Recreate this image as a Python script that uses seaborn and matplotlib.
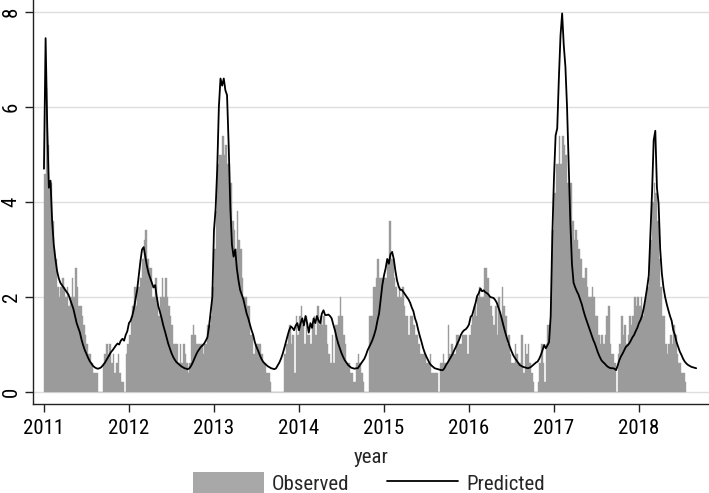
import numpy as np
import pandas as pd
import matplotlib
matplotlib.use("Agg")
import matplotlib.pyplot as plt
from matplotlib.patches import Patch
from matplotlib.lines import Line2D
import seaborn as sns

# ---------------- data (weekly) ----------------
obs_2011 = [4.6, 6.4, 5.2, 4.4, 4.4, 3.6, 3.0, 2.8, 2.2, 2.0, 2.2, 2.4, 2.2, 2.0, 2.2, 1.8, 2.0, 2.4, 2.0, 2.6,
            2.2, 1.8, 1.8, 1.6, 1.4, 1.2, 1.0, 0.8, 0.8, 0.6, 0.4, 0.4, 0.4, 0.0, 0.0, 0.0, 0.6, 0.8, 1.0, 0.8,
            1.0, 0.6, 0.8, 0.4, 0.6, 0.8, 0.4, 0.2, 0.2, 0.0, 0.8, 1.0]
obs_2012 = [1.2, 1.6, 1.8, 2.2, 1.8, 2.2, 2.2, 2.4, 2.8, 3.2, 3.4, 2.8, 2.6, 2.6, 2.0, 2.0, 2.4, 2.0, 1.6, 2.0,
            2.4, 2.0, 2.4, 2.0, 1.8, 1.6, 1.4, 1.0, 1.0, 1.0, 0.6, 1.0, 0.6, 1.0, 0.8, 0.6, 0.4, 0.6, 1.2, 1.4,
            1.2, 1.0, 1.0, 1.0, 1.0, 0.8, 1.0, 1.0, 1.4, 1.4, 1.6, 2.2]
obs_2013 = [3.0, 3.8, 4.8, 5.0, 5.0, 5.4, 5.0, 5.2, 4.8, 4.8, 4.4, 3.6, 3.4, 3.0, 3.8, 3.2, 3.0, 2.4, 2.0, 2.0,
            1.8, 1.8, 1.2, 1.2, 0.8, 1.0, 1.0, 1.0, 1.0, 0.8, 0.6, 0.6, 0.4, 0.4, 0.2, 0.0, 0.0, 0.0, 0.0, 0.0,
            0.0, 0.0, 0.0, 0.8, 1.0, 1.2, 1.4, 1.0, 1.2, 0.4, 1.6, 1.2]
obs_2014 = [1.6, 1.8, 1.4, 1.0, 1.6, 1.2, 1.2, 1.0, 1.4, 1.6, 1.2, 1.8, 1.4, 1.6, 1.4, 1.6, 1.4, 1.0, 0.8, 0.6,
            1.2, 0.6, 1.4, 1.4, 1.6, 2.0, 1.6, 1.2, 1.0, 0.6, 0.6, 0.4, 0.4, 0.2, 0.2, 0.6, 0.8, 0.6, 0.4, 0.2,
            0.0, 0.0, 0.0, 1.6, 1.6, 2.2, 2.2, 2.4, 2.8, 2.4, 2.4, 2.4]
obs_2015 = [2.4, 2.4, 2.8, 3.6, 2.8, 2.8, 2.4, 2.2, 2.0, 2.2, 2.0, 2.2, 1.8, 1.6, 1.6, 1.2, 1.6, 1.6, 1.4, 1.2,
            1.2, 1.0, 0.8, 0.8, 0.8, 0.8, 0.6, 0.6, 0.8, 0.4, 0.4, 0.4, 0.4, 0.0, 0.6, 0.6, 0.8, 0.6, 0.6, 1.4,
            0.8, 1.0, 0.8, 0.8, 1.2, 1.2, 1.0, 1.0, 1.2, 1.2, 1.2, 0.8]
obs_2016 = [1.2, 1.4, 1.6, 1.8, 1.6, 2.0, 2.2, 2.0, 2.0, 2.6, 2.6, 2.4, 2.0, 1.8, 1.6, 1.4, 1.8, 1.2, 2.0, 1.6,
            2.2, 1.8, 1.6, 1.0, 1.2, 0.8, 0.6, 0.6, 1.0, 0.8, 0.6, 0.6, 1.2, 0.4, 1.0, 0.8, 1.0, 0.6, 0.4, 0.2,
            0.0, 0.0, 0.2, 0.6, 1.0, 0.6, 0.2, 1.0, 1.4, 1.4, 2.0, 3.4]
obs_2017 = [4.2, 4.8, 4.8, 5.4, 4.8, 5.4, 5.2, 5.0, 4.4, 4.4, 4.4, 3.6, 3.2, 3.4, 3.2, 3.0, 2.8, 2.4, 2.4, 2.6,
            2.2, 2.0, 2.0, 2.2, 2.0, 1.6, 1.6, 1.2, 1.0, 1.2, 1.0, 1.2, 1.6, 1.8, 1.0, 0.8, 0.8, 0.6, 0.0, 0.8,
            1.0, 1.6, 1.2, 1.4, 1.0, 1.2, 1.6, 1.4, 1.6, 2.0, 1.8, 2.0]
obs_2018 = [1.8, 2.0, 1.6, 1.8, 2.0, 2.2, 2.4, 3.2, 4.0, 4.4, 4.2, 3.6, 2.8, 2.2, 1.6, 1.6, 1.0, 0.8, 1.0, 1.2,
            1.0, 1.4, 1.2, 0.8, 0.6, 0.6, 0.4, 0.4, 0.2]

pred_2011 = [4.7, 7.45, 5.6, 4.3, 4.45, 3.6, 3.1, 2.8, 2.55, 2.4, 2.3, 2.25, 2.2, 2.15, 2.1, 2.05, 1.95, 1.85,
             1.75, 1.6, 1.45, 1.35, 1.25, 1.1, 0.98, 0.88, 0.8, 0.72, 0.65, 0.6, 0.55, 0.52, 0.5, 0.49, 0.5,
             0.52, 0.56, 0.6, 0.66, 0.72, 0.78, 0.84, 0.88, 0.93, 0.98, 1.02, 1.0, 1.08, 1.12, 1.08, 1.2, 1.28]
pred_2012 = [1.45, 1.5, 1.6, 1.75, 1.95, 2.15, 2.45, 2.75, 3.0, 3.05, 2.85, 2.65, 2.5, 2.4, 2.3, 2.2, 2.25, 2.0,
             1.8, 1.68, 1.55, 1.4, 1.28, 1.15, 1.02, 0.92, 0.82, 0.74, 0.68, 0.63, 0.6, 0.57, 0.54, 0.52, 0.5,
             0.49, 0.48, 0.5, 0.55, 0.62, 0.7, 0.78, 0.85, 0.9, 0.95, 0.98, 1.02, 1.08, 1.15, 1.38, 1.7, 2.0]
pred_2013 = [3.4, 3.85, 4.7, 6.0, 6.6, 6.45, 6.6, 6.35, 6.25, 5.2, 3.9, 3.1, 2.85, 3.0, 2.6, 2.35, 2.15, 2.05,
             1.95, 1.8, 1.65, 1.55, 1.42, 1.3, 1.2, 1.05, 0.95, 0.87, 0.78, 0.7, 0.64, 0.6, 0.57, 0.54, 0.52,
             0.5, 0.49, 0.48, 0.5, 0.56, 0.62, 0.7, 0.8, 0.92, 1.05, 1.18, 1.3, 1.38, 1.35, 1.3, 1.4, 1.45]
pred_2014 = [1.3, 1.45, 1.55, 1.4, 1.6, 1.45, 1.25, 1.45, 1.35, 1.55, 1.45, 1.6, 1.5, 1.45, 1.65, 1.72, 1.62,
             1.62, 1.63, 1.6, 1.55, 1.42, 1.3, 1.15, 1.02, 0.92, 0.82, 0.74, 0.67, 0.62, 0.57, 0.54, 0.51, 0.5,
             0.49, 0.5, 0.5, 0.55, 0.6, 0.65, 0.7, 0.78, 0.88, 0.95, 1.02, 1.1, 1.2, 1.32, 1.5, 1.65, 1.95, 2.25]
pred_2015 = [2.45, 2.6, 2.8, 2.7, 2.9, 2.95, 2.8, 2.55, 2.35, 2.22, 2.15, 2.15, 2.1, 2.05, 2.0, 1.95, 1.88, 1.78,
             1.7, 1.55, 1.45, 1.3, 1.17, 1.05, 0.92, 0.82, 0.74, 0.67, 0.6, 0.56, 0.53, 0.5, 0.49, 0.48, 0.47,
             0.46, 0.46, 0.5, 0.57, 0.62, 0.68, 0.74, 0.8, 0.88, 0.95, 1.03, 1.1, 1.2, 1.26, 1.3, 1.32, 1.36]
pred_2016 = [1.42, 1.58, 1.62, 1.75, 1.87, 2.02, 2.08, 2.18, 2.12, 2.14, 2.1, 2.08, 2.05, 2.0, 1.99, 1.98, 1.94,
             1.88, 1.78, 1.68, 1.55, 1.41, 1.28, 1.16, 1.05, 0.95, 0.86, 0.78, 0.72, 0.67, 0.62, 0.57, 0.55,
             0.53, 0.52, 0.51, 0.5, 0.51, 0.53, 0.56, 0.59, 0.62, 0.64, 0.7, 0.78, 0.88, 0.99, 0.92, 0.98,
             1.05, 1.6, 3.3]
pred_2017 = [4.5, 5.4, 5.55, 6.6, 7.5, 7.97, 7.3, 6.85, 6.0, 4.8, 3.6, 2.7, 2.3, 2.2, 2.12, 2.05, 1.95, 1.85,
             1.72, 1.6, 1.5, 1.4, 1.3, 1.2, 1.1, 1.02, 0.92, 0.82, 0.74, 0.67, 0.63, 0.6, 0.56, 0.53, 0.51, 0.5,
             0.5, 0.49, 0.46, 0.56, 0.67, 0.75, 0.81, 0.88, 0.95, 0.98, 1.02, 1.08, 1.15, 1.2, 1.28, 1.35]
pred_2018 = [1.45, 1.52, 1.62, 1.78, 1.98, 2.2, 2.45, 3.3, 4.2, 5.3, 5.5, 4.3, 3.97, 3.0, 2.5, 2.2, 2.0, 1.85,
             1.72, 1.6, 1.5, 1.3, 1.2, 1.05, 0.95, 0.85, 0.78, 0.7, 0.64, 0.6, 0.57, 0.55, 0.53, 0.52, 0.51, 0.5]

start_year = 2011
weeks_per_year = 52
y_ticks = [0, 2, 4, 6, 8]
x_ticks = [2011, 2012, 2013, 2014, 2015, 2016, 2017, 2018]
series_labels = ["Observed", "Predicted"]
x_title = "year"

observed = obs_2011 + obs_2012 + obs_2013 + obs_2014 + obs_2015 + obs_2016 + obs_2017 + obs_2018
predicted = pred_2011 + pred_2012 + pred_2013 + pred_2014 + pred_2015 + pred_2016 + pred_2017 + pred_2018

# ---------------- styling ----------------
bar_color = "#9b9b9b"
grid_color = "#dedede"
font_size = 15

sns.set_style("white")
plt.rcParams["font.family"] = ["Nimbus Sans Narrow", "Liberation Sans Narrow", "Arial Narrow",
                               "Roboto Condensed", "Liberation Sans", "DejaVu Sans"]

fig = plt.figure(figsize=(7.09, 4.93), dpi=100)
W, H = 709, 493
ax = fig.add_axes([33 / W, 89 / H, 676 / W, 404 / H])

n_obs = len(observed)
df_obs = pd.DataFrame({
    "year": start_year + (np.arange(n_obs) + 0.5) / weeks_per_year,
    "value": observed,
})
sns.histplot(data=df_obs, x="year", weights="value",
             binwidth=1 / weeks_per_year,
             binrange=(start_year, start_year + n_obs / weeks_per_year),
             color=bar_color, alpha=1, edgecolor=bar_color, linewidth=0.3, ax=ax, zorder=2)

df_pred = pd.DataFrame({
    "year": start_year + np.arange(len(predicted)) / weeks_per_year,
    "value": predicted,
})
sns.lineplot(data=df_pred, x="year", y="value", color="black", linewidth=1.3, ax=ax, zorder=3)

ax.set_xlim(2010.871, 2018.824)
ax.set_ylim(-0.253, 8.253)
ax.set_yticks(y_ticks)
ax.set_yticklabels([str(v) for v in y_ticks], rotation=90, va="center", fontsize=font_size)
ax.set_xticks(x_ticks)
ax.set_xticklabels([str(v) for v in x_ticks], fontsize=font_size)
ax.yaxis.grid(True, color=grid_color, linewidth=1.0)
ax.xaxis.grid(False)
ax.set_axisbelow(True)

for side in ["top", "right"]:
    ax.spines[side].set_visible(False)
for side in ["left", "bottom"]:
    ax.spines[side].set_color("#222222")
    ax.spines[side].set_linewidth(1.0)
ax.tick_params(axis="both", direction="out", length=6, width=1.0, color="#222222",
               bottom=True, left=True, labelcolor="black")
ax.tick_params(axis="x", pad=5)
ax.tick_params(axis="y", pad=3)

ax.set_xlabel(x_title, fontsize=font_size, labelpad=7)
ax.set_ylabel("")

handles = [Patch(facecolor="#a8a8a8", edgecolor="none"),
           Line2D([0], [0], color="black", linewidth=1.3)]
fig.legend(handles, series_labels, loc="lower center", bbox_to_anchor=(0.52, -0.04), ncol=2,
           frameon=False, fontsize=font_size, handlelength=3.4, handleheight=1.2,
           columnspacing=1.8, handletextpad=0.4)

fig.savefig("out.png", dpi=100)
